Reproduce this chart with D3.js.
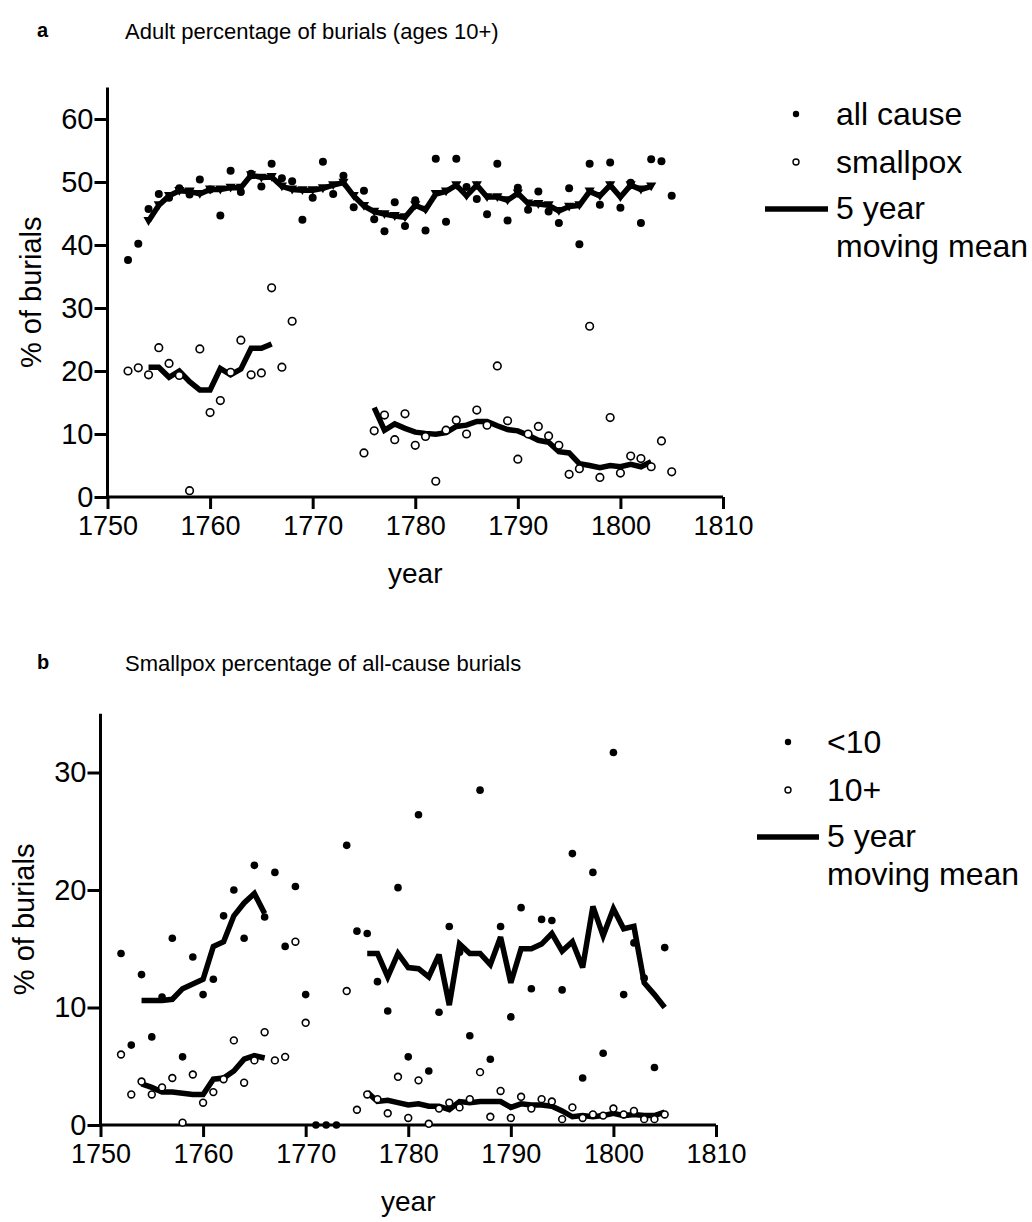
<!DOCTYPE html>
<html><head><meta charset="utf-8">
<script src="https://cdn.jsdelivr.net/npm/d3@7"></script>
<style>body{margin:0;background:#fff}svg{display:block;font-family:"Liberation Sans",Arial,sans-serif}</style>
</head><body><svg id="c" width="1032" height="1222"></svg>
<script>
// ---------- Panel a data ----------
const yearsA = [1752,1753,1754,1755,1756,1757,1758,1759,1760,1761,1762,1763,1764,1765,1766,1767,1768,1769,1770,1771,1772,1773,1774,1775,1776,1777,1778,1779,1780,1781,1782,1783,1784,1785,1786,1787,1788,1789,1790,1791,1792,1793,1794,1795,1796,1797,1798,1799,1800,1801,1802,1803,1804,1805];
const allCause = [37.6,40.2,45.7,48.1,47.5,49.0,48.0,50.4,48.8,44.7,51.8,48.4,51.3,49.3,52.9,50.6,50.1,44.0,47.5,53.2,48.1,51.0,46.0,48.6,44.1,42.2,46.8,43.0,47.1,42.3,53.7,43.7,53.7,49.2,47.3,44.9,52.9,43.9,49.1,45.6,48.5,45.3,43.5,49.0,40.1,52.9,46.4,53.1,45.9,49.9,43.5,53.6,53.3,47.8];
const smallpoxYearsA = [1752,1753,1754,1755,1756,1757,1758,1759,1760,1761,1762,1763,1764,1765,1766,1767,1768,1775,1776,1777,1778,1779,1780,1781,1782,1783,1784,1785,1786,1787,1788,1789,1790,1791,1792,1793,1794,1795,1796,1797,1798,1799,1800,1801,1802,1803,1804,1805];
const smallpoxA = [20.0,20.5,19.4,23.7,21.2,19.3,1.0,23.5,13.4,15.3,19.8,24.9,19.4,19.7,33.2,20.6,27.9,7.0,10.5,13.0,9.1,13.2,8.2,9.6,2.5,10.6,12.2,10.0,13.8,11.4,20.8,12.1,6.0,10.0,11.2,9.7,8.2,3.6,4.5,27.1,3.1,12.6,3.8,6.5,6.1,4.8,8.9,4.0];
const maAllYears = [1754,1755,1756,1757,1758,1759,1760,1761,1762,1763,1764,1765,1766,1767,1768,1769,1770,1771,1772,1773,1774,1775,1776,1777,1778,1779,1780,1781,1782,1783,1784,1785,1786,1787,1788,1789,1790,1791,1792,1793,1794,1795,1796,1797,1798,1799,1800,1801,1802,1803];
const maAll = [43.8,46.3,47.8,48.6,48.5,48.1,48.8,48.8,49.1,49.1,51.1,50.7,50.8,49.3,48.8,48.7,48.7,49.0,49.5,49.9,47.8,46.2,45.3,44.9,44.6,44.4,46.3,45.6,48.1,48.5,49.5,47.8,49.5,47.6,47.6,47.1,48.2,46.6,46.5,46.3,45.4,46.1,46.3,48.5,47.8,49.5,47.6,49.5,48.8,49.3];
const maSmallA1Years = [1754,1755,1756,1757,1758,1759,1760,1761,1762,1763,1764,1765,1766];
const maSmallA1 = [20.6,20.6,19.0,20.0,18.3,17.0,17.0,20.4,19.4,20.3,23.6,23.6,24.3];
const maSmallA2Years = [1776,1777,1778,1779,1780,1781,1782,1783,1784,1785,1786,1787,1788,1789,1790,1791,1792,1793,1794,1795,1796,1797,1798,1799,1800,1801,1802,1803];
const maSmallA2 = [14.2,10.6,11.6,10.9,10.3,10.1,9.95,10.2,11.2,11.4,12.0,12.0,11.3,10.7,10.5,9.8,9.0,8.7,7.2,7.0,5.3,5.0,4.65,5.0,4.8,5.2,4.8,5.6];

// ---------- Panel b data ----------
const yearsB = [1752,1753,1754,1755,1756,1757,1758,1759,1760,1761,1762,1763,1764,1765,1766,1767,1768,1769,1770,1771,1772,1773,1774,1775,1776,1777,1778,1779,1780,1781,1782,1783,1784,1785,1786,1787,1788,1789,1790,1791,1792,1793,1794,1795,1796,1797,1798,1799,1800,1801,1802,1803,1804,1805];
const under10 = [14.6,6.8,12.8,7.5,10.9,15.9,5.8,14.3,11.1,12.4,17.8,20.0,15.9,22.1,17.7,21.5,15.2,20.3,11.1,0,0,0,23.8,16.5,16.3,12.2,9.7,20.2,5.8,26.4,4.6,9.6,16.9,14.7,7.6,28.5,5.6,16.9,9.2,18.5,11.6,17.5,17.4,11.5,23.1,4.0,21.5,6.1,31.7,11.1,15.5,12.5,4.9,15.1];
const over10Years = [1752,1753,1754,1755,1756,1757,1758,1759,1760,1761,1762,1763,1764,1765,1766,1767,1768,1769,1770,1774,1775,1776,1777,1778,1779,1780,1781,1782,1783,1784,1785,1786,1787,1788,1789,1790,1791,1792,1793,1794,1795,1796,1797,1798,1799,1800,1801,1802,1803,1804,1805];
const over10 = [6.0,2.6,3.7,2.6,3.2,4.0,0.2,4.3,1.9,2.8,3.9,7.2,3.6,5.5,7.9,5.5,5.8,15.6,8.7,11.4,1.3,2.6,2.2,1.0,4.1,0.6,3.8,0.1,1.4,1.9,1.5,2.2,4.5,0.7,2.9,0.6,2.4,1.4,2.2,2.0,0.5,1.5,0.6,0.9,0.8,1.4,0.9,1.2,0.5,0.5,0.9];
const maU1Years = [1754,1755,1756,1757,1758,1759,1760,1761,1762,1763,1764,1765,1766];
const maU1 = [10.6,10.6,10.6,10.7,11.6,12.0,12.4,15.2,15.6,17.8,18.9,19.7,18.0];
const maU2Years = [1776,1777,1778,1779,1780,1781,1782,1783,1784,1785,1786,1787,1788,1789,1790,1791,1792,1793,1794,1795,1796,1797,1798,1799,1800,1801,1802,1803,1804,1805];
const maU2 = [14.6,14.6,12.6,14.6,13.4,13.3,12.6,14.5,10.2,15.4,14.6,14.6,13.65,16.0,12.1,15.0,15.0,15.4,16.3,14.8,15.6,13.4,18.6,16.1,18.4,16.7,16.9,12.1,11.1,10.0];
const maO1Years = maU1Years;
const maO1 = [3.5,3.2,2.8,2.8,2.7,2.6,2.6,3.9,4.0,4.6,5.6,5.9,5.7];
const maO2Years = maU2Years;
const maO2 = [2.8,2.0,2.1,1.9,1.7,1.8,1.6,1.6,1.3,2.0,1.9,2.0,2.0,2.0,1.5,1.8,1.7,1.7,1.6,1.2,0.7,0.8,0.7,0.8,1.0,0.8,0.9,0.8,0.8,1.1];

const xTicks = [1750,1760,1770,1780,1790,1800,1810];
const yTicksA = [0,10,20,30,40,50,60];
const yTicksB = [0,10,20,30];

const FONT = '"Liberation Sans",Arial,sans-serif';
const svg = d3.select("#c");
const zip = (xs, ys) => xs.map((x,i)=>[x, ys[i]]);

function panel(cfg){
  const g = svg.append("g");
  const x = d3.scaleLinear().domain([1750,1810]).range(cfg.xr);
  const y = d3.scaleLinear().domain([0,cfg.ymax]).range(cfg.yr);
  const ax = g.append("g").attr("transform",`translate(0,${cfg.yr[0]})`)
    .call(d3.axisBottom(x).tickValues(xTicks).tickFormat(d3.format("d")).tickSize(12).tickSizeOuter(0).tickPadding(7));
  const ay = g.append("g").attr("transform",`translate(${cfg.xr[0]},0)`)
    .call(d3.axisLeft(y).tickValues(cfg.yticks).tickSize(13).tickSizeOuter(0).tickPadding(1));
  [ax,ay].forEach(a=>{
    a.selectAll("path,line").attr("stroke","#000").attr("stroke-width",3);
    a.selectAll("text").attr("fill","#000").attr("font-family",FONT);
  });
  ax.selectAll("text").attr("font-size",27);
  ay.selectAll("text").attr("font-size",29);
  ay.select(".domain").attr("d",`M0,${cfg.yr[0]+1.5}V${cfg.yr[1]}`);
  ax.select(".domain").attr("d",`M${cfg.xr[0]-1.5},0H${cfg.xr[1]}`);
  g.append("text").attr("x",(cfg.xr[0]+cfg.xr[1])/2).attr("y",cfg.yr[0]+86).attr("text-anchor","middle").attr("font-size",28).text("year");
  g.append("text").attr("transform",`translate(${cfg.xr[0]-67},${(cfg.yr[0]+cfg.yr[1])/2}) rotate(-90)`).attr("text-anchor","middle").attr("font-size",29).text("% of burials");
  g.append("text").attr("x",37).attr("y",cfg.ty).attr("font-size",20).attr("font-weight","bold").text(cfg.letter);
  g.append("text").attr("x",125).attr("y",cfg.ty+2).attr("font-size",22).text(cfg.title);
  const line = d3.line().x(d=>x(d[0])).y(d=>y(d[1]));
  cfg.lines.forEach(l=>{
    g.append("path").datum(l).attr("d",line).attr("fill","none").attr("stroke","#000").attr("stroke-width",5.5).attr("stroke-linejoin","miter").attr("stroke-miterlimit",3);
  });
  if(cfg.tri){
    g.selectAll(".tri").data(cfg.tri).join("path").attr("d",d3.symbol(d3.symbolTriangle,45))
      .attr("transform",d=>`translate(${x(d[0])},${y(d[1])-1}) rotate(180)`).attr("fill","#000");
  }
  g.selectAll(".op").data(cfg.open).join("circle").attr("cx",d=>x(d[0])).attr("cy",d=>y(d[1])).attr("r",cfg.ro)
    .attr("fill","#fff").attr("stroke","#000").attr("stroke-width",1.6);
  g.selectAll(".fi").data(cfg.filled).join("circle").attr("cx",d=>x(d[0])).attr("cy",d=>y(d[1])).attr("r",cfg.rf).attr("fill","#000");
  const L = cfg.leg;
  g.append("circle").attr("cx",L.dx).attr("cy",L.y0).attr("r",3.2).attr("fill","#000");
  g.append("text").attr("x",L.tx).attr("y",L.y0+11).attr("font-size",32).text(L.labels[0]);
  g.append("circle").attr("cx",L.dx).attr("cy",L.y0+48).attr("r",3).attr("fill","#fff").attr("stroke","#000").attr("stroke-width",1.4);
  g.append("text").attr("x",L.tx).attr("y",L.y0+59).attr("font-size",32).text(L.labels[1]);
  g.append("line").attr("x1",L.lx).attr("x2",L.tx-8).attr("y1",L.y0+95).attr("y2",L.y0+95).attr("stroke","#000").attr("stroke-width",5.5);
  g.append("text").attr("x",L.tx).attr("y",L.y0+105).attr("font-size",32).text("5 year");
  g.append("text").attr("x",L.tx).attr("y",L.y0+143).attr("font-size",32).text("moving mean");
}

panel({
  xr:[107.5,723], yr:[497,87.5], ymax:65, yticks:yTicksA, ty:37, letter:"a",
  title:"Adult percentage of burials (ages 10+)",
  lines:[zip(maAllYears,maAll), zip(maSmallA1Years,maSmallA1), zip(maSmallA2Years,maSmallA2)],
  tri: zip(maAllYears,maAll),
  open: zip(smallpoxYearsA,smallpoxA), filled: zip(yearsA,allCause), rf:4, ro:3.8,
  leg:{dx:796, y0:114, tx:836, lx:765, labels:["all cause","smallpox"]}
});
panel({
  xr:[100.5,716], yr:[1125,713.75], ymax:35, yticks:yTicksB, ty:669, letter:"b",
  title:"Smallpox percentage of all-cause burials",
  lines:[zip(maU1Years,maU1), zip(maU2Years,maU2), zip(maO1Years,maO1), zip(maO2Years,maO2)],
  open: zip(over10Years,over10), filled: zip(yearsB,under10), rf:3.8, ro:3.4,
  leg:{dx:788, y0:742, tx:827, lx:757, labels:["<10","10+"]}
});
</script></body></html>
